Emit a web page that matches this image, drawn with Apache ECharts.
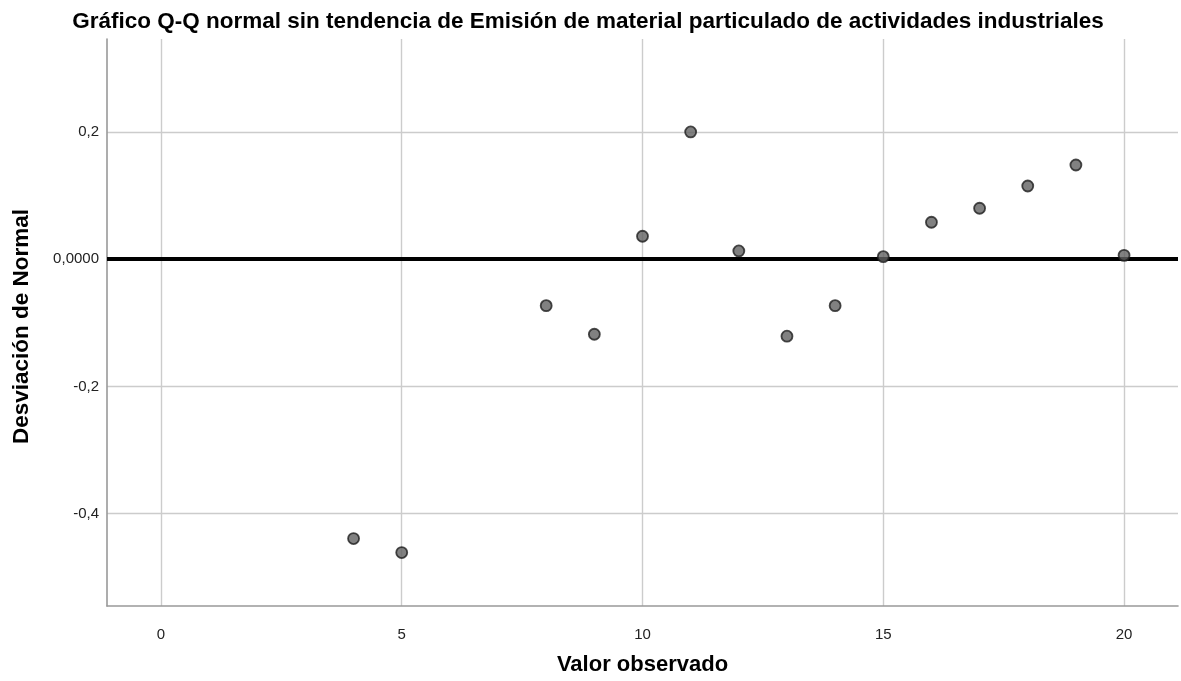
<!DOCTYPE html>
<html>
<head>
<meta charset="utf-8">
<script src="https://cdn.jsdelivr.net/npm/echarts@6/dist/echarts.min.js"></script>
<style>
  html, body { margin: 0; padding: 0; background: #ffffff; }
  #chart { width: 1181px; height: 681px; }
</style>
</head>
<body>
<div id="chart"></div>
<script>
// Observed values and their deviation from the normal expectation
const observed = [4, 5, 8, 9, 10, 11, 12, 13, 14, 15, 16, 17, 18, 19, 20];
const deviation = [-0.439, -0.461, -0.073, -0.118, 0.036, 0.200, 0.013, -0.121, -0.073, 0.004, 0.058, 0.080, 0.115, 0.148, 0.006];

const xTicks = [0, 5, 10, 15, 20];
const yTicks = [-0.4, -0.2, 0, 0.2];

const titleText = 'Gráfico Q-Q normal sin tendencia de Emisión de material particulado de actividades industriales';
const xName = 'Valor observado';
const yName = 'Desviación de Normal';

const points = observed.map((v, i) => [v, deviation[i]]);

const fontFamily = '"Liberation Sans", Arial, sans-serif';

const chart = echarts.init(document.getElementById('chart'), null, { renderer: 'canvas' });

chart.setOption({
  backgroundColor: '#ffffff',
  animation: false,
  title: {
    text: titleText,
    left: 588,
    textAlign: 'center',
    top: 10,
    padding: 0,
    textStyle: { fontFamily, fontSize: 22.5, fontWeight: 'bold', color: '#000000' }
  },
  grid: { left: 107, right: 3, top: 39, bottom: 72, containLabel: false },
  xAxis: {
    type: 'value',
    min: -1.12,
    max: 21.12,
    name: xName,
    nameLocation: 'middle',
    nameGap: 48,
    nameTextStyle: { fontFamily, fontSize: 22, fontWeight: 'bold', color: '#000000' },
    axisLine: { show: true, onZero: false, lineStyle: { color: '#999999', width: 1.6 } },
    axisTick: { show: false, customValues: xTicks },
    axisLabel: {
      customValues: xTicks,
      margin: 21,
      fontFamily, fontSize: 15, color: '#222222',
      formatter: v => String(v)
    },
    splitLine: { show: true, customValues: xTicks, lineStyle: { color: '#cccccc', width: 1.4 } }
  },
  yAxis: {
    type: 'value',
    min: -0.545,
    max: 0.346,
    name: yName,
    nameLocation: 'middle',
    nameGap: 74,
    nameRotate: 90,
    nameTextStyle: { fontFamily, fontSize: 22.5, fontWeight: 'bold', color: '#000000', padding: [0, 0, 0, -8] },
    axisLine: { show: true, onZero: false, lineStyle: { color: '#999999', width: 1.6 } },
    axisTick: { show: false, customValues: yTicks },
    axisLabel: {
      customValues: yTicks,
      margin: 8,
      fontFamily, fontSize: 15, color: '#222222',
      formatter: v => {
        if (Math.abs(v) < 1e-9) return '0,0000';
        return v.toFixed(1).replace('.', ',');
      }
    },
    splitLine: { show: true, customValues: yTicks, lineStyle: { color: '#cccccc', width: 1.4 } }
  },
  series: [
    {
      type: 'scatter',
      data: points,
      symbol: 'circle',
      symbolSize: 11,
      itemStyle: { color: '#626262', borderColor: '#1e1e1e', borderWidth: 1.8 },
      z: 5,
      markLine: {
        silent: true,
        symbol: 'none',
        label: { show: false },
        lineStyle: { color: '#000000', width: 4, type: 'solid' },
        data: [{ yAxis: 0 }],
        z: 3
      }
    }
  ]
});
</script>
</body>
</html>
